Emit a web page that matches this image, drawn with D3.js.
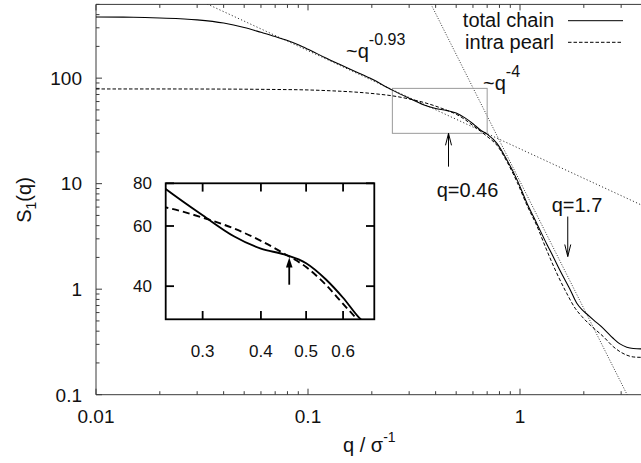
<!DOCTYPE html>
<html><head><meta charset="utf-8">
<script src="https://cdn.jsdelivr.net/npm/d3@7"></script>
<style>
body{margin:0;background:#fff}
svg{display:block;font-family:"Liberation Sans",Arial,Helvetica,sans-serif}
</style>
</head><body>
<svg id="chart" width="641" height="463"></svg>
<script>
// ---------- data ----------
const xTickVals = [0.01, 0.1, 1];
const xTickLabels = ["0.01", "0.1", "1"];
const yTickVals = [0.1, 1, 10, 100];
const yTickLabels = ["0.1", "1", "10", "100"];

const totalQ = [0.01,0.015,0.02,0.03,0.04,0.05,0.06,0.07,0.08,0.09,0.1,0.12,0.14,0.17,0.2,0.25,0.3,0.35,0.4,0.45,0.5,0.55,0.6,0.65,0.7,0.78,0.87,0.97,1.08,1.2,1.34,1.44,1.54,1.72,1.85,1.96,2.06,2.22,2.47,2.75,2.96,3.19,3.42,3.71,4.0];
const totalS = [380,378,372,357,333,302,272,248,227,207,188,157,136,114,98,77,64.5,56,51.5,49.5,46.7,42,37,32.3,29.5,24,16.6,10.8,6.5,4.2,2.65,2.0,1.52,1.0,0.74,0.64,0.585,0.512,0.426,0.343,0.303,0.282,0.274,0.272,0.272];

const pearlQ = [0.01,0.02,0.03,0.05,0.07,0.1,0.13,0.16,0.19,0.22,0.25,0.3,0.35,0.4,0.45,0.5,0.55,0.6,0.65,0.7,0.78,0.87,0.97,1.08,1.2,1.33,1.49,1.66,1.82,1.96,2.14,2.47,2.75,2.96,3.19,3.42,3.71,4.0];
const pearlS = [79,79,78.9,78.6,78.1,77.3,75.8,74.2,72.3,70.2,68,63.5,59,54.3,49.7,45.5,40.5,35.5,31.5,28,23,16,10.3,6.2,4.0,2.4,1.42,0.916,0.66,0.55,0.459,0.356,0.286,0.256,0.237,0.228,0.226,0.226];

const seriesNames = ["total chain", "intra pearl"];
const powerLawPrefactor = [21.4, 10.5];
const powerLawExponent = [-0.93, -4];
const powerLawLabels = ["-0.93", "-4"];

const zoomBoxQ = [0.25, 0.7];
const zoomBoxS = [30, 80];
const insetXTicks = [0.3, 0.4, 0.5, 0.6];
const insetYTicks = [40, 60, 80];
const insetXDomain = [0.25, 0.7];
const insetYDomain = [32, 80];

// ---------- setup ----------
const svg = d3.select("#chart");
const W = 641, H = 463;
const x = d3.scaleLog().domain([0.01, 10]).range([96, 732]);
const y = d3.scaleLog().domain([0.1, 500]).range([394.7, 4.4]);
const xi = d3.scaleLog().domain(insetXDomain).range([165.7, 374.3]);
const yi = d3.scaleLog().domain(insetYDomain).range([319.3, 183.3]);

const defs = svg.append("defs");
defs.append("clipPath").attr("id","mainClip").append("rect")
  .attr("x",96).attr("y",4.4).attr("width",636).attr("height",390.3);
defs.append("clipPath").attr("id","insetClip").append("rect")
  .attr("x",165.7).attr("y",183.3).attr("width",374.3-165.7).attr("height",319.3-183.3);

const total = totalQ.map((q,i)=>({q, s: totalS[i]}));
const pearl = pearlQ.map((q,i)=>({q, s: pearlS[i]}));

// ---------- main axes ----------
const frameColor = "#3a3a3a";
const gAx = svg.append("g");
const minorX = x.ticks().filter(v => !xTickVals.includes(v) && v < 10);
const minorY = y.ticks().filter(v => !yTickVals.includes(v));

function ticksX(vals, len){
  vals.forEach(v=>{
    const px = x(v);
    if (px > W) return;
    gAx.append("line").attr("x1",px).attr("x2",px).attr("y1",y.range()[0]).attr("y2",y.range()[0]-len)
      .attr("stroke",frameColor).attr("stroke-width",1);
    gAx.append("line").attr("x1",px).attr("x2",px).attr("y1",y.range()[1]).attr("y2",y.range()[1]+len)
      .attr("stroke",frameColor).attr("stroke-width",1);
  });
}
function ticksY(vals, len){
  vals.forEach(v=>{
    const py = y(v);
    gAx.append("line").attr("x1",96).attr("x2",96+len).attr("y1",py).attr("y2",py)
      .attr("stroke",frameColor).attr("stroke-width",1);
  });
}
ticksX(xTickVals, 6); ticksX(minorX, 3.5);
ticksY(yTickVals, 6); ticksY(minorY, 3.5);

// frame
gAx.append("line").attr("x1",96).attr("x2",W).attr("y1",394.7).attr("y2",394.7).attr("stroke",frameColor);
gAx.append("line").attr("x1",96).attr("x2",W).attr("y1",4.4).attr("y2",4.4).attr("stroke",frameColor);
gAx.append("line").attr("x1",96).attr("x2",96).attr("y1",4.4).attr("y2",394.7).attr("stroke",frameColor);

xTickVals.forEach((v,i)=>{
  svg.append("text").attr("x",x(v)).attr("y",423.3).attr("text-anchor","middle")
    .attr("font-size",19).attr("fill","#111").text(xTickLabels[i]);
});
yTickVals.forEach((v,i)=>{
  svg.append("text").attr("x",82).attr("y",y(v)+6.8).attr("text-anchor","end")
    .attr("font-size",19).attr("fill","#111").text(yTickLabels[i]);
});

// axis titles
const yl = svg.append("text").attr("transform","translate(31,200) rotate(-90)")
  .attr("text-anchor","middle").attr("font-size",20).attr("fill","#111");
yl.append("tspan").text("S");
yl.append("tspan").attr("font-size",14).attr("dy",5).text("1");
yl.append("tspan").attr("dy",-5).text("(q)");

const xl = svg.append("text").attr("x",343).attr("y",451.7).attr("font-size",20).attr("fill","#111");
xl.append("tspan").text("q / \u03c3");
xl.append("tspan").attr("font-size",14).attr("dy",-10).text("-1");

// ---------- main plot content ----------
const gMain = svg.append("g").attr("clip-path","url(#mainClip)");
const lineMain = d3.line().x(d=>x(d.q)).y(d=>y(d.s)).curve(d3.curveMonotoneX);

// power-law guides
powerLawPrefactor.forEach((A,i)=>{
  const qs = [0.01, 10];
  const pts = qs.map(q=>({q, s: A*Math.pow(q, powerLawExponent[i])}));
  gMain.append("path").attr("d", d3.line().x(d=>x(d.q)).y(d=>y(d.s))(pts))
    .attr("fill","none").attr("stroke","#222").attr("stroke-width",0.9)
    .attr("stroke-dasharray", i===0 ? "1.2,2.2" : "1,1.6");
});

// zoom box
gMain.append("rect").attr("x",x(zoomBoxQ[0])).attr("y",y(zoomBoxS[1]))
  .attr("width",x(zoomBoxQ[1])-x(zoomBoxQ[0])).attr("height",y(zoomBoxS[0])-y(zoomBoxS[1]))
  .attr("fill","none").attr("stroke","#9a9a9a").attr("stroke-width",1);

gMain.append("path").attr("d",lineMain(pearl)).attr("fill","none").attr("stroke","#000")
  .attr("stroke-width",1).attr("stroke-dasharray","3.5,2");
gMain.append("path").attr("d",lineMain(total)).attr("fill","none").attr("stroke","#000")
  .attr("stroke-width",1.1);

// legend
const legY = [20.7, 42.3];
seriesNames.forEach((n,i)=>{
  svg.append("text").attr("x",554).attr("y",legY[i]+6.5).attr("text-anchor","end")
    .attr("font-size",20).attr("fill","#111").text(n);
  svg.append("line").attr("x1",568).attr("x2",623).attr("y1",legY[i]).attr("y2",legY[i])
    .attr("stroke","#000").attr("stroke-width",1)
    .attr("stroke-dasharray", i===1 ? "3.5,2" : null);
});

// power-law labels
function powLabel(px, py, sup){
  const t = svg.append("text").attr("x",px).attr("y",py).attr("font-size",20).attr("fill","#111");
  t.append("tspan").text("~q");
  t.append("tspan").attr("font-size",16).attr("dy",-13).text(sup);
}
powLabel(346, 58.3, powerLawLabels[0]);
powLabel(483, 90, powerLawLabels[1]);

// annotations (arrows)
const annQ = [0.46, 1.68];
const annLabel = ["q=0.46", "q=1.7"];
function arrow(g, px, y1, y2, head, filled, sw){
  const dir = y2 < y1 ? 1 : -1;
  g.append("line").attr("x1",px).attr("x2",px).attr("y1",y1).attr("y2",y2 + (filled?dir*4:0))
    .attr("stroke","#000").attr("stroke-width",sw);
  if (filled){
    g.append("path").attr("d",`M${px},${y2} L${px-3.3},${y2+dir*head} L${px+3.3},${y2+dir*head} Z`).attr("fill","#000");
  } else {
    g.append("path").attr("d",`M${px-3},${y2+dir*head} L${px},${y2} L${px+3},${y2+dir*head}`)
      .attr("fill","none").attr("stroke","#000").attr("stroke-width",sw);
  }
}
arrow(svg, x(annQ[0]), y(14.5), y(30), 12, false, 1);
svg.append("text").attr("x",x(annQ[0])+19).attr("y",196.7).attr("text-anchor","middle")
  .attr("font-size",20).attr("fill","#111").text(annLabel[0]);
arrow(svg, x(annQ[1]), y(4.88), y(2.04), 12, false, 1);
svg.append("text").attr("x",551.7).attr("y",211.7)
  .attr("font-size",20).attr("fill","#111").text(annLabel[1]);

// ---------- inset ----------
const gIn = svg.append("g");
gIn.append("rect").attr("x",165.7).attr("y",183.3).attr("width",374.3-165.7).attr("height",319.3-183.3)
  .attr("fill","#fff");
const gInC = gIn.append("g").attr("clip-path","url(#insetClip)");
const lineIn = d3.line().x(d=>xi(d.q)).y(d=>yi(d.s)).curve(d3.curveMonotoneX);
gInC.append("path").attr("d",lineIn(pearl)).attr("fill","none").attr("stroke","#000")
  .attr("stroke-width",1.9).attr("stroke-dasharray","7,4");
gInC.append("path").attr("d",lineIn(total)).attr("fill","none").attr("stroke","#000")
  .attr("stroke-width",1.9);

insetXTicks.forEach(v=>{
  const px = xi(v);
  gIn.append("line").attr("x1",px).attr("x2",px).attr("y1",319.3).attr("y2",311).attr("stroke","#000").attr("stroke-width",1.8);
  gIn.append("line").attr("x1",px).attr("x2",px).attr("y1",183.3).attr("y2",191.6).attr("stroke","#000").attr("stroke-width",1.8);
  gIn.append("text").attr("x",px).attr("y",357).attr("text-anchor","middle")
    .attr("font-size",17).attr("fill","#111").text(v.toFixed(1));
});
insetYTicks.forEach(v=>{
  const py = yi(v);
  gIn.append("line").attr("x1",165.7).attr("x2",174).attr("y1",py).attr("y2",py).attr("stroke","#000").attr("stroke-width",1.8);
  gIn.append("line").attr("x1",374.3).attr("x2",366).attr("y1",py).attr("y2",py).attr("stroke","#000").attr("stroke-width",1.8);
  gIn.append("text").attr("x",152).attr("y",py+6).attr("text-anchor","end")
    .attr("font-size",17).attr("fill","#111").text(v);
});
gIn.append("rect").attr("x",165.7).attr("y",183.3).attr("width",374.3-165.7).attr("height",319.3-183.3)
  .attr("fill","none").attr("stroke","#000").attr("stroke-width",1.8);

arrow(gIn, xi(0.46), yi(40.4), yi(48.5), 10, true, 1.8);
</script>
</body></html>
